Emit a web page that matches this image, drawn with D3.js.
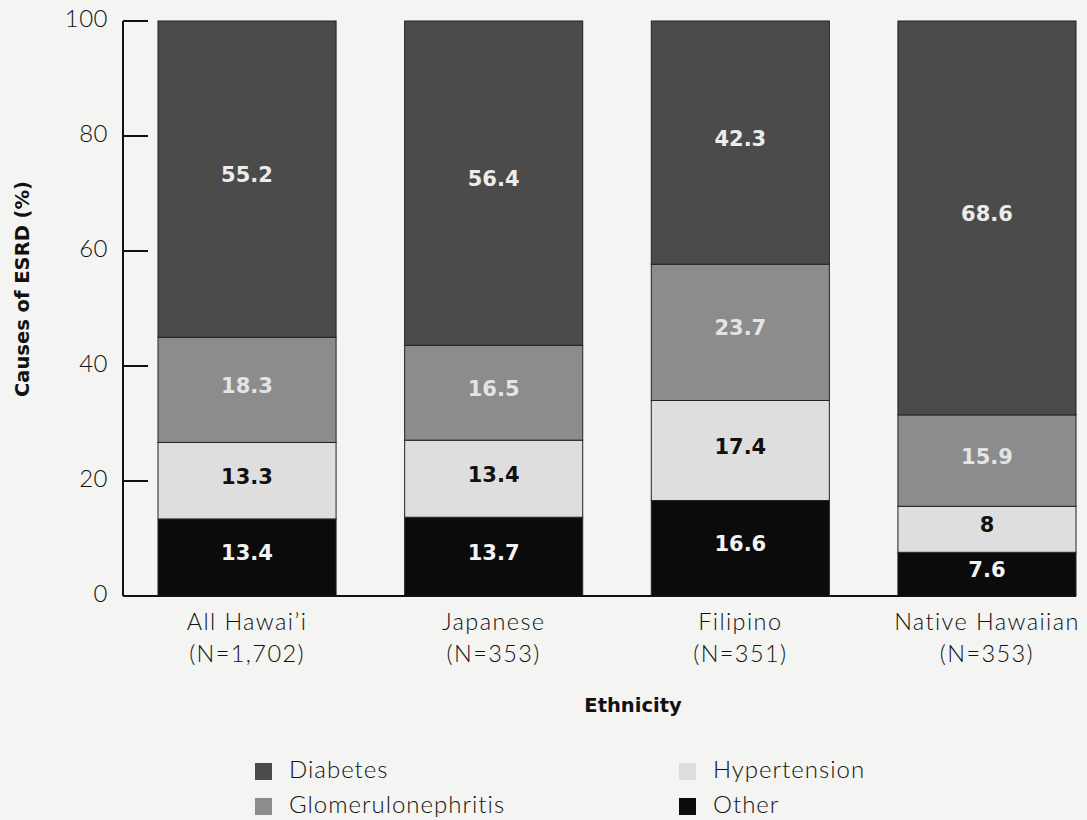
<!DOCTYPE html>
<html lang="en">
<head>
  <meta charset="UTF-8">
  <title>Causes of ESRD by Ethnicity</title>
  <script src="https://d3js.org/d3.v7.min.js"></script>
  <style>
    body { margin: 0; padding: 0; background: #f4f4f2; }
    svg { display: block; font-family: "Lato", sans-serif; }
    .tick-label { font-size: 24px; font-weight: 300; fill: #111; letter-spacing: 0.5px; }
    .cat-label { font-size: 23.5px; font-weight: 300; fill: #111; letter-spacing: 1.4px; }
    .axis-title { font-family: "DejaVu Sans", sans-serif; font-size: 19.5px; font-weight: 700; fill: #111; }
    .value { font-family: "DejaVu Sans", sans-serif; font-size: 21px; font-weight: 700; }
    .legend-text { font-size: 24px; font-weight: 300; fill: #111; letter-spacing: 1px; }
  </style>
</head>
<body>
<svg id="chart" width="1087" height="820"></svg>

<script>
  // data
  const categories = ["All Hawai’i", "Japanese", "Filipino", "Native Hawaiian"];
  const sampleSizes = ["(N=1,702)", "(N=353)", "(N=351)", "(N=353)"];
  const causes = ["Other", "Hypertension", "Glomerulonephritis", "Diabetes"];
  const other = [13.4, 13.7, 16.6, 7.6];
  const hypertension = [13.3, 13.4, 17.4, 8];
  const glomerulonephritis = [18.3, 16.5, 23.7, 15.9];
  const diabetes = [55.2, 56.4, 42.3, 68.6];
  const yTicks = [0, 20, 40, 60, 80, 100];

  const colors = {
    Diabetes: "#4b4b4b",
    Glomerulonephritis: "#8c8c8c",
    Hypertension: "#dedede",
    Other: "#0b0b0b"
  };
  const labelColors = {
    Diabetes: "#ececec",
    Glomerulonephritis: "#e4e4e4",
    Hypertension: "#111",
    Other: "#f4f4f4"
  };

  const rows = categories.map((c, i) => ({
    category: c,
    Other: other[i],
    Hypertension: hypertension[i],
    Glomerulonephritis: glomerulonephritis[i],
    Diabetes: diabetes[i]
  }));

  const svg = d3.select("#chart");
  const axisX = 123;

  const x = d3.scaleBand()
    .domain(categories)
    .range([158, 1076])
    .paddingInner(0.278)
    .paddingOuter(0);

  const y = d3.scaleLinear()
    .domain([0, 100])
    .range([596, 21]);

  const stacked = d3.stack().keys(causes)(rows);

  // bars
  const layer = svg.append("g")
    .selectAll("g")
    .data(stacked)
    .enter().append("g")
      .attr("fill", d => colors[d.key]);

  layer.selectAll("rect")
    .data(d => d.map(p => ({ key: d.key, p })))
    .enter().append("rect")
      .attr("x", d => x(d.p.data.category))
      .attr("width", x.bandwidth())
      .attr("y", d => y(Math.min(d.p[1], 100)))
      .attr("height", d => y(d.p[0]) - y(Math.min(d.p[1], 100)))
      .attr("stroke", "#222")
      .attr("stroke-width", 1);

  // value labels
  layer.selectAll("text")
    .data(d => d.map(p => ({ key: d.key, p })))
    .enter().append("text")
      .attr("class", "value")
      .attr("x", d => x(d.p.data.category) + x.bandwidth() / 2)
      .attr("y", d => y((d.p[0] + Math.min(d.p[1], 100)) / 2) - 3)
      .attr("text-anchor", "middle")
      .attr("dominant-baseline", "middle")
      .attr("fill", d => labelColors[d.key])
      .text(d => d.p.data[d.key]);

  // y axis
  const yAxis = svg.append("g");
  yAxis.append("line")
    .attr("x1", axisX).attr("x2", axisX)
    .attr("y1", y(100)).attr("y2", y(0))
    .attr("stroke", "#111").attr("stroke-width", 2);
  yAxis.selectAll("line.tick")
    .data(yTicks)
    .enter().append("line")
      .attr("class", "tick")
      .attr("x1", axisX).attr("x2", axisX + 25)
      .attr("y1", d => y(d)).attr("y2", d => y(d))
      .attr("stroke", "#111").attr("stroke-width", 2);
  yAxis.selectAll("text")
    .data(yTicks)
    .enter().append("text")
      .attr("class", "tick-label")
      .attr("x", 108)
      .attr("y", d => y(d))
      .attr("text-anchor", "end")
      .attr("dominant-baseline", "middle")
      .text(d => d);

  // x axis baseline
  svg.append("line")
    .attr("x1", axisX).attr("x2", x.range()[1])
    .attr("y1", y(0)).attr("y2", y(0))
    .attr("stroke", "#111").attr("stroke-width", 2);

  // category labels
  const cat = svg.append("g")
    .selectAll("text")
    .data(categories)
    .enter().append("text")
      .attr("class", "cat-label")
      .attr("x", d => x(d) + x.bandwidth() / 2)
      .attr("text-anchor", "middle");
  cat.append("tspan")
    .attr("x", d => x(d) + x.bandwidth() / 2)
    .attr("y", 630)
    .text(d => d);
  cat.append("tspan")
    .attr("x", d => x(d) + x.bandwidth() / 2)
    .attr("y", 662)
    .text((d, i) => sampleSizes[i]);

  // axis titles
  svg.append("text")
    .attr("class", "axis-title")
    .attr("x", 633).attr("y", 712)
    .attr("text-anchor", "middle")
    .text("Ethnicity");

  svg.append("text")
    .attr("class", "axis-title")
    .attr("transform", "translate(29,289) rotate(-90)")
    .attr("text-anchor", "middle")
    .text("Causes of ESRD (%)");

  // legend
  const legendItems = [
    { key: "Diabetes", x: 255, y: 772 },
    { key: "Glomerulonephritis", x: 255, y: 807 },
    { key: "Hypertension", x: 679, y: 772 },
    { key: "Other", x: 679, y: 807 }
  ];
  const legend = svg.append("g")
    .selectAll("g")
    .data(legendItems)
    .enter().append("g")
      .attr("transform", d => `translate(${d.x},${d.y})`);
  legend.append("rect")
    .attr("x", 0).attr("y", -9)
    .attr("width", 17).attr("height", 17)
    .attr("fill", d => colors[d.key]);
  legend.append("text")
    .attr("class", "legend-text")
    .attr("x", 34).attr("y", 0)
    .attr("dominant-baseline", "middle")
    .text(d => d.key);
</script>
</body>
</html>
